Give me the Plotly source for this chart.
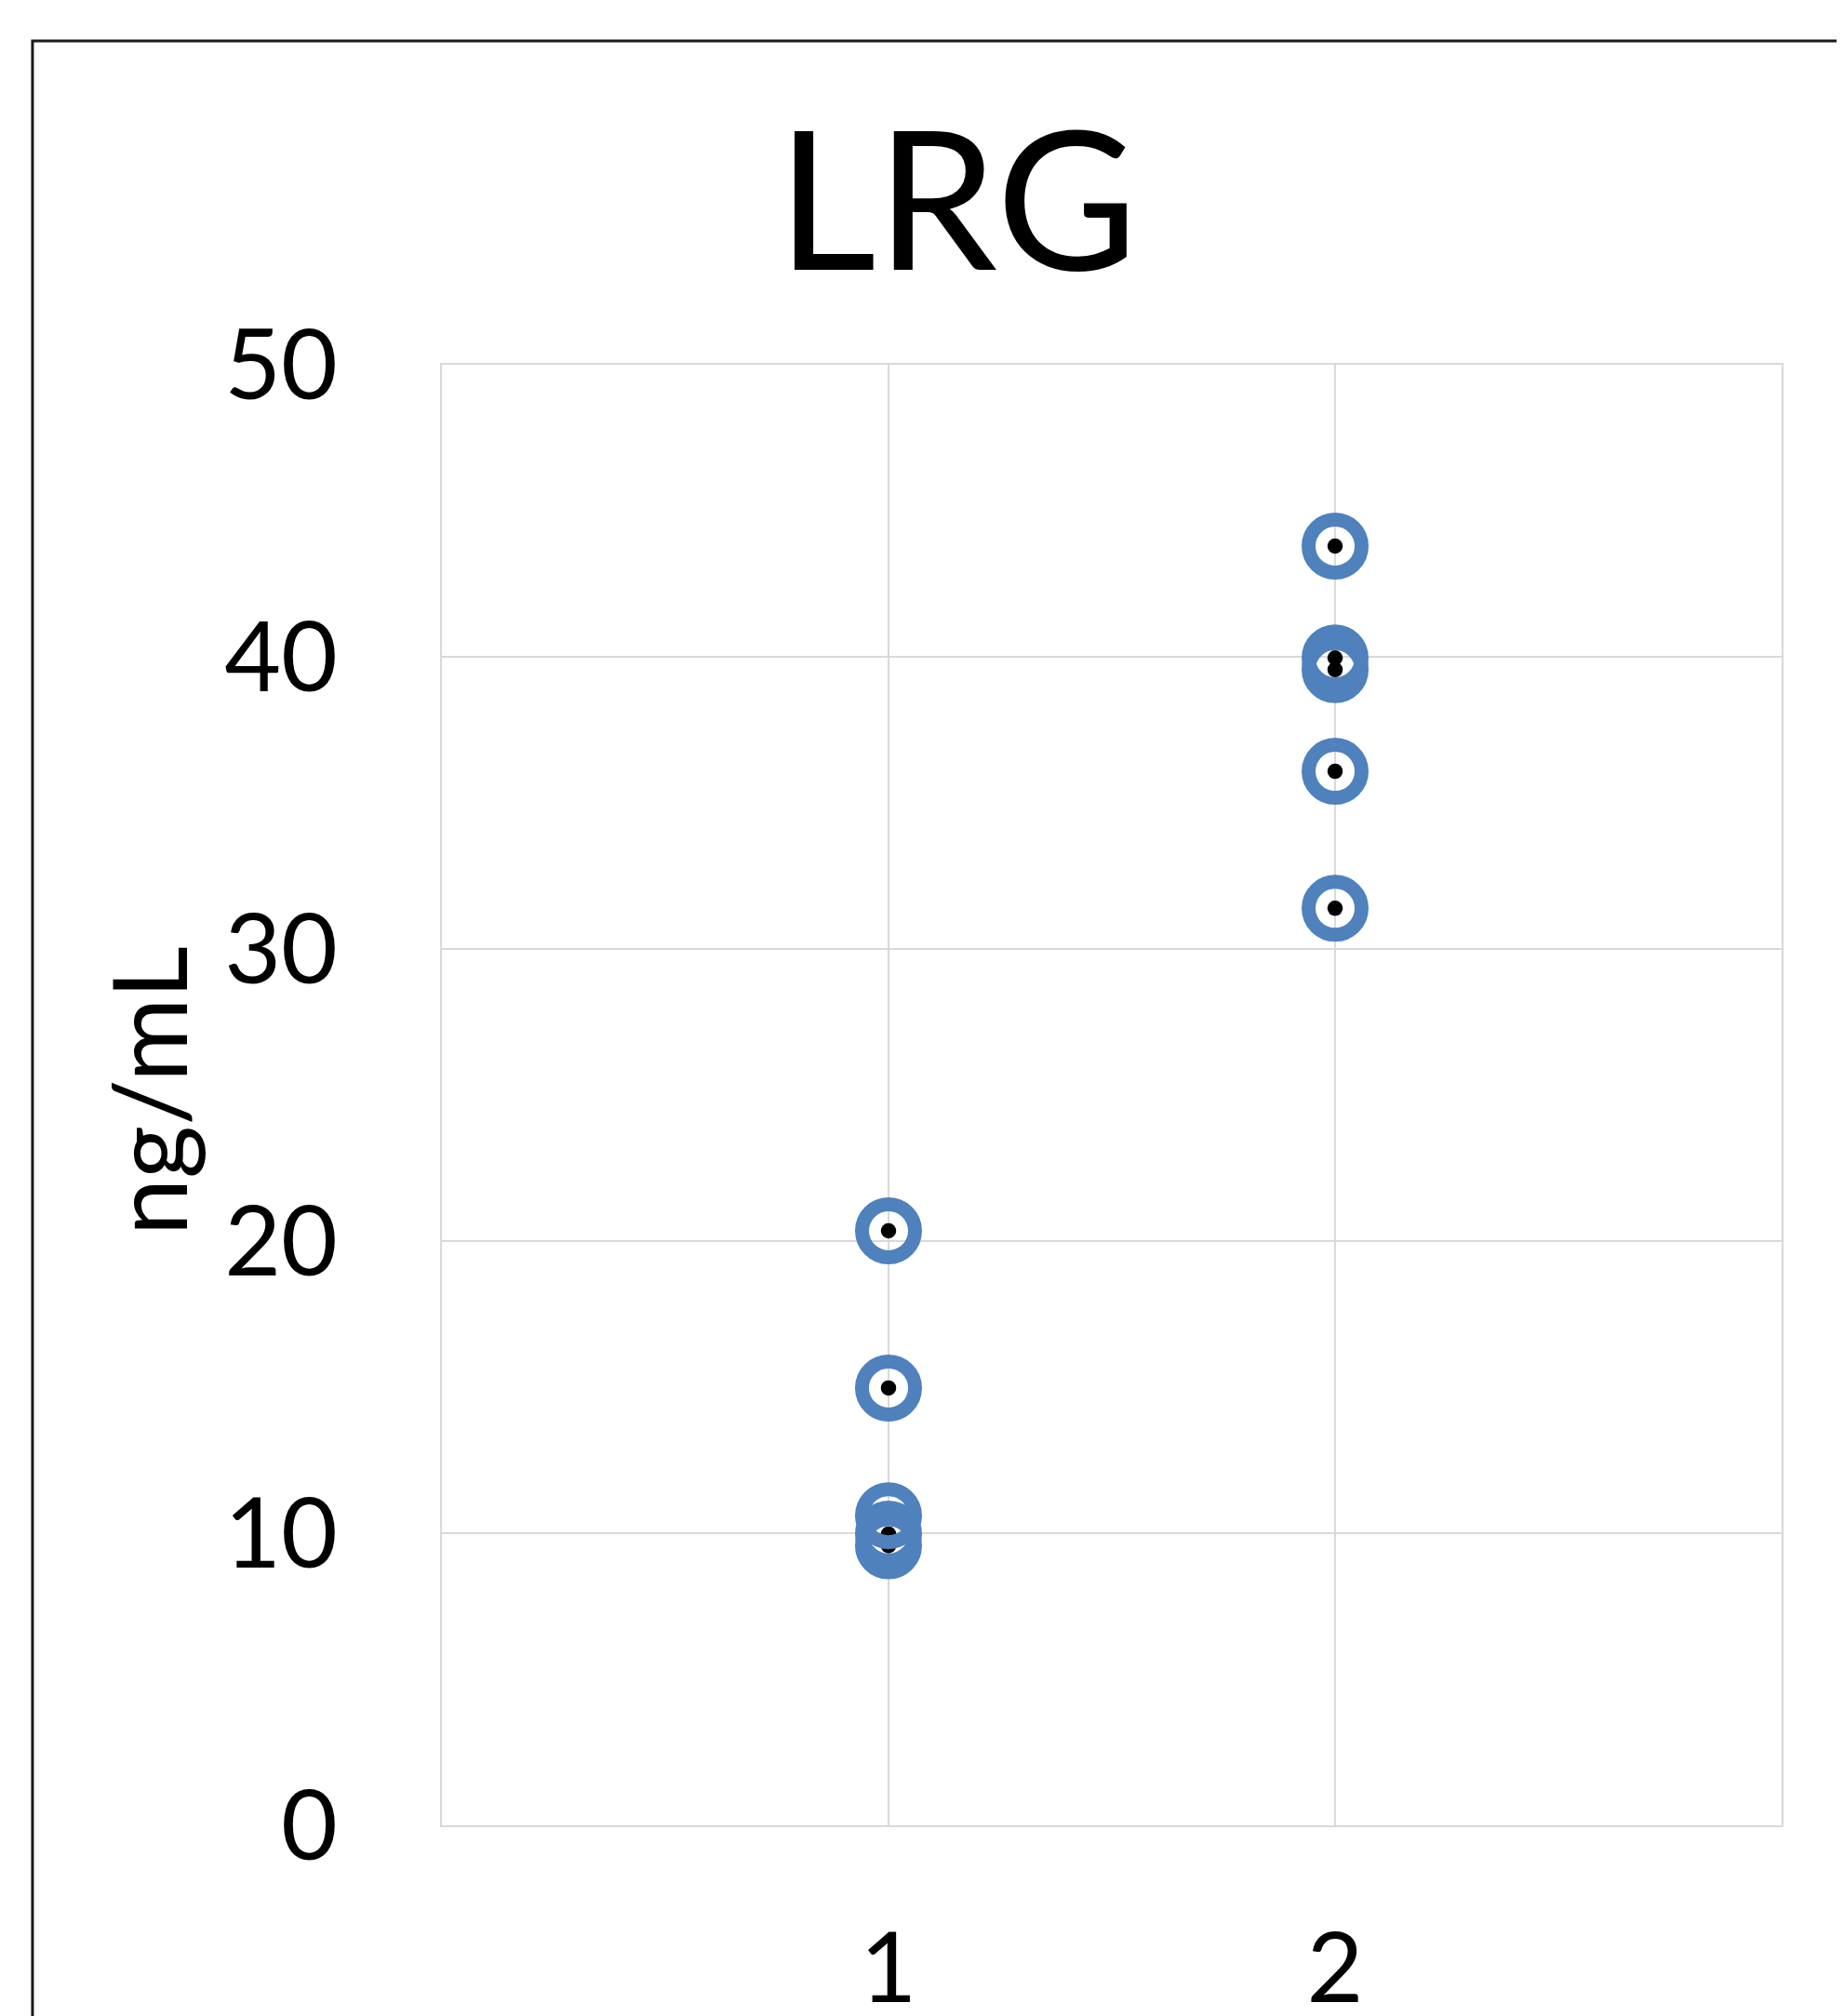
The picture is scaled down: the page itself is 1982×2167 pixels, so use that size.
import plotly.graph_objects as go

# ---- data ----
group_positions = [1, 2]
group_tick_labels = ["1", "2"]
group1_values = [20.35, 14.97, 10.6, 9.97, 9.57]
group2_values = [43.79, 39.96, 39.56, 36.08, 31.39]
y_tick_values = [0, 10, 20, 30, 40, 50]
title_text = "LRG"
y_label = "ng/mL"

xs = [group_positions[0]] * len(group1_values) + [group_positions[1]] * len(group2_values)
ys = group1_values + group2_values

FONT = "Lato"
BLUE = "#4F81BD"
GRID = "#D9D9D9"

fig = go.Figure()
# small black dots (drawn underneath)
fig.add_trace(go.Scatter(
    x=xs, y=ys, mode="markers",
    marker=dict(symbol="circle", size=16.5, color="black", line=dict(width=0)),
    hoverinfo="y", showlegend=False,
))
# blue open rings on top
fig.add_trace(go.Scatter(
    x=xs, y=ys, mode="markers",
    marker=dict(symbol="circle-open", size=57, color=BLUE, line=dict(width=15, color=BLUE)),
    hoverinfo="y", showlegend=False,
))

fig.update_layout(
    template="none",
    width=1982, height=2167, autosize=False,
    margin=dict(l=467, r=75, t=384, b=213, pad=0),
    paper_bgcolor="white", plot_bgcolor="white",
    font=dict(family=FONT, size=105, color="black"),
    showlegend=False,
    xaxis=dict(
        range=[0, 3], tickvals=group_positions, ticktext=group_tick_labels,
        showgrid=True, gridcolor=GRID, gridwidth=2,
        showline=True, linecolor=GRID, linewidth=2, mirror=True,
        zeroline=False, ticks="", ticklabelstandoff=62, automargin=False,
        tickfont=dict(family=FONT, size=105, color="black"),
    ),
    yaxis=dict(
        range=[0, 50], tickvals=y_tick_values,
        showgrid=True, gridcolor=GRID, gridwidth=2,
        showline=True, linecolor=GRID, linewidth=2, mirror=True,
        zeroline=False, ticks="", ticklabelstandoff=89, automargin=False,
        tickfont=dict(family=FONT, size=105, color="black"),
    ),
    annotations=[
        dict(text=title_text, xref="paper", yref="paper", x=0.3847, y=1.116,
             xanchor="center", yanchor="middle", showarrow=False,
             font=dict(family=FONT, size=208, color="black")),
        dict(text=y_label, xref="paper", yref="paper", x=-0.220, y=0.5025,
             xanchor="center", yanchor="middle", showarrow=False, textangle=-90,
             font=dict(family=FONT, size=110, color="black")),
    ],
    shapes=[
        dict(type="rect", xref="paper", yref="paper",
             x0=-0.3056, y0=-0.2, x1=1.2, y1=1.2217,
             line=dict(color="#1a1a1a", width=3), fillcolor="rgba(0,0,0,0)", layer="below"),
    ],
)

fig.write_html("out.html")
